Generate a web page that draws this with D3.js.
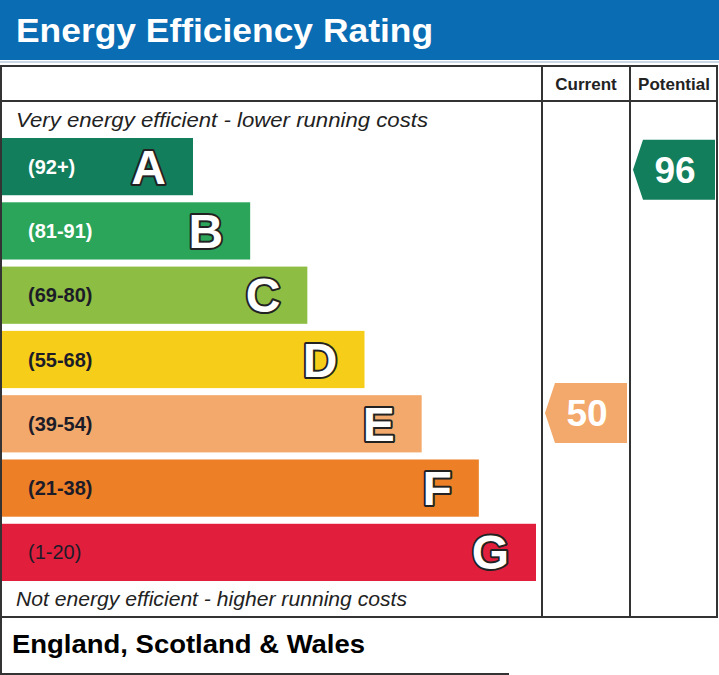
<!DOCTYPE html>
<html>
<head>
<meta charset="utf-8">
<script src="https://cdn.jsdelivr.net/npm/d3@7"></script>
<style>
  body { margin: 0; background: #fff; }
  svg { display: block; font-family: "Liberation Sans", Arial, sans-serif; }
</style>
</head>
<body>
<svg id="chart" width="719" height="675"></svg>
<script>
// rating bands, top to bottom
let bands = ['A', 'B', 'C', 'D', 'E', 'F', 'G']
let rangeLabels = ['(92+)', '(81-91)', '(69-80)', '(55-68)', '(39-54)', '(21-38)', '(1-20)']
let rangeMin = [92, 81, 69, 55, 39, 21, 1]
let rangeMax = [100, 91, 80, 68, 54, 38, 20]
let bandColours = ['#137e5c', '#2aa55a', '#8dbd43', '#f6cd19', '#f3a96b', '#ed7f27', '#e11f3d']
let labelColours = ['#ffffff', '#ffffff', '#1c1c28', '#1c1c28', '#1c1c28', '#1c1c28', '#1c1c28']

let columns = ['Current', 'Potential']
let scores = [50, 96]

let svg = d3.select('#chart')

// blue title band
svg.append('rect')
  .attr('x', 0).attr('y', 0)
  .attr('width', 719).attr('height', 60)
  .attr('fill', '#0a6cb3')
svg.append('rect')
  .attr('x', 0).attr('y', 61)
  .attr('width', 719).attr('height', 2)
  .attr('fill', '#c9d8e6')
svg.append('text')
  .attr('x', 16).attr('y', 42)
  .attr('fill', '#ffffff')
  .attr('font-size', 33)
  .attr('font-weight', 'bold')
  .attr('textLength', 417)
  .attr('lengthAdjust', 'spacingAndGlyphs')
  .text('Energy Efficiency Rating')

// scales
let y = d3.scaleBand()
  .domain(bands)
  .range([138, 581])
  .paddingInner(0.11)

let barEnd = d3.scaleLinear()
  .domain([0, bands.length - 1])
  .range([193, 536])

let col = d3.scaleBand()
  .domain(columns)
  .range([542, 718])

function bandOf(score){
  let i = rangeMin.findIndex(function(m){ return score >= m })
  return i < 0 ? bands.length - 1 : i
}

function scoreY(score){
  let i = bandOf(score)
  let s = d3.scaleLinear()
    .domain([rangeMin[i], rangeMax[i] + 1])
    .range([y(bands[i]) + y.bandwidth(), y(bands[i])])
  return s(score)
}

// bars
let bar = svg.selectAll('g.bar')
  .data(bands)
  .enter()
  .append('g')
  .attr('class', 'bar')

bar.append('rect')
  .attr('x', 2)
  .attr('y', function(d){ return y(d) })
  .attr('width', function(d, i){ return barEnd(i) - 2 })
  .attr('height', y.bandwidth())
  .attr('fill', function(d, i){ return bandColours[i] })

bar.append('text')
  .attr('x', 28)
  .attr('y', function(d){ return y(d) + y.bandwidth() / 2 + 7 })
  .attr('font-size', 20)
  .attr('font-weight', function(d, i){ return i == bands.length - 1 ? 'normal' : 'bold' })
  .attr('fill', function(d, i){ return labelColours[i] })
  .text(function(d, i){ return rangeLabels[i] })

bar.append('text')
  .attr('x', function(d, i){ return barEnd(i) - 27 })
  .attr('y', function(d){ return y(d) + y.bandwidth() / 2 + 17 })
  .attr('text-anchor', 'end')
  .attr('font-size', 48)
  .attr('font-weight', 'bold')
  .attr('fill', '#ffffff')
  .attr('stroke', '#222222')
  .attr('stroke-width', 4)
  .attr('stroke-linejoin', 'round')
  .attr('paint-order', 'stroke')
  .text(function(d){ return d })

// italic captions
svg.append('text')
  .attr('x', 16).attr('y', 127)
  .attr('font-size', 21)
  .attr('font-style', 'italic')
  .attr('fill', '#222222')
  .attr('textLength', 412)
  .attr('lengthAdjust', 'spacingAndGlyphs')
  .text('Very energy efficient - lower running costs')

svg.append('text')
  .attr('x', 16).attr('y', 606)
  .attr('font-size', 21)
  .attr('font-style', 'italic')
  .attr('fill', '#222222')
  .attr('textLength', 391)
  .attr('lengthAdjust', 'spacingAndGlyphs')
  .text('Not energy efficient - higher running costs')

// frame
let frame = svg.append('g')
  .attr('fill', 'none')
  .attr('stroke', '#333333')
  .attr('stroke-width', 2)

frame.append('rect')
  .attr('x', 1).attr('y', 66)
  .attr('width', 716).attr('height', 551)
frame.append('line')
  .attr('x1', 1).attr('x2', 717)
  .attr('y1', 101).attr('y2', 101)
frame.selectAll('line.col')
  .data(columns)
  .enter()
  .append('line')
  .attr('class', 'col')
  .attr('x1', function(d){ return col(d) })
  .attr('x2', function(d){ return col(d) })
  .attr('y1', 66).attr('y2', 617)

// footer box
frame.append('path')
  .attr('d', 'M1,617 V674 H509')

svg.append('text')
  .attr('x', 12).attr('y', 653)
  .attr('font-size', 26)
  .attr('font-weight', 'bold')
  .attr('fill', '#000000')
  .attr('textLength', 353)
  .attr('lengthAdjust', 'spacingAndGlyphs')
  .text('England, Scotland & Wales')

// column headers
svg.selectAll('text.colhead')
  .data(columns)
  .enter()
  .append('text')
  .attr('class', 'colhead')
  .attr('x', function(d){ return col(d) + col.bandwidth() / 2 })
  .attr('y', 90)
  .attr('text-anchor', 'middle')
  .attr('font-size', 17)
  .attr('font-weight', 'bold')
  .attr('fill', '#222222')
  .text(function(d){ return d })

// score arrows
let arrow = svg.selectAll('g.arrow')
  .data(scores)
  .enter()
  .append('g')
  .attr('class', 'arrow')

arrow.append('path')
  .attr('d', function(d, i){
    let x0 = col(columns[i]) + 3
    let x1 = x0 + 10
    let x2 = col(columns[i]) + col.bandwidth() - 3
    let cy = scoreY(d)
    return 'M' + x0 + ',' + cy + ' L' + x1 + ',' + (cy - 30) + ' H' + x2 +
      ' V' + (cy + 30) + ' H' + x1 + ' Z'
  })
  .attr('fill', function(d){ return bandColours[bandOf(d)] })

arrow.append('text')
  .attr('x', function(d, i){ return col(columns[i]) + col.bandwidth() / 2 + 1 })
  .attr('y', function(d){ return scoreY(d) + 13 })
  .attr('text-anchor', 'middle')
  .attr('font-size', 37)
  .attr('font-weight', 'bold')
  .attr('fill', '#ffffff')
  .text(function(d){ return d })
</script>
</body>
</html>
